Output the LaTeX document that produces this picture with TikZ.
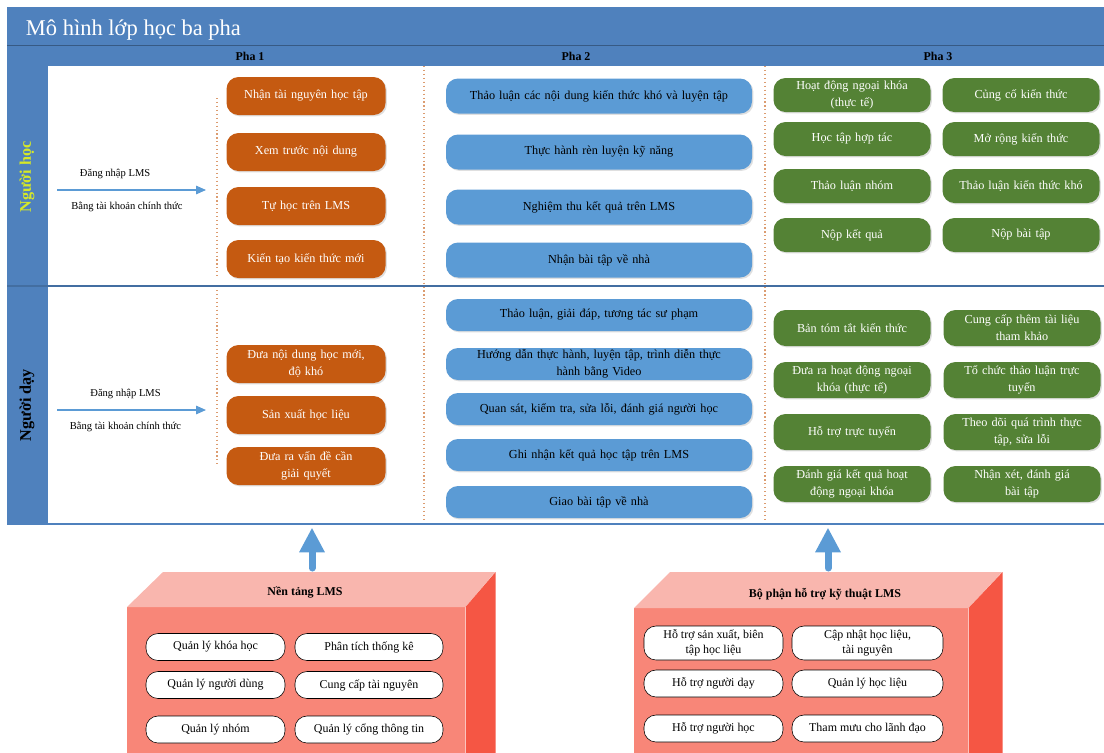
\documentclass[tikz,border=0pt]{standalone}
\usepackage{fontspec}
\setmainfont{Liberation Serif}
\usetikzlibrary{arrows.meta,shadows}
\newdimen\pxu \pxu=0.025cm
\definecolor{framecol}{RGB}{79,129,189}
\definecolor{pha1col}{RGB}{197,90,17}
\definecolor{pha2col}{RGB}{91,155,213}
\definecolor{pha3col}{RGB}{84,130,53}
\definecolor{hoccol}{RGB}{214,232,40}
\definecolor{boxtop}{RGB}{249,182,174}
\definecolor{boxfront}{RGB}{248,134,120}
\definecolor{boxside}{RGB}{245,86,68}
\tikzset{
  phabox/.style={rounded corners=12\pxu, inner sep=1pt, align=center,
    font=\fontsize{8.7}{12}\selectfont,
    drop shadow={opacity=0.25, shadow xshift=1pt, shadow yshift=-1pt}},
  box1/.style={phabox, fill=pha1col, text=white, minimum width=159\pxu,
    minimum height=38\pxu, text width=145\pxu},
  box2/.style={phabox, fill=pha2col, minimum width=306\pxu,
    minimum height=35\pxu, text width=290\pxu},
  box3/.style={phabox, fill=pha3col, text=white, minimum width=157\pxu,
    minimum height=34\pxu, text width=145\pxu},
  litebox/.style={draw, fill=white, rounded corners=12\pxu, inner sep=1pt,
    align=center, minimum height=27\pxu, font=\fontsize{8.5}{10.5}\selectfont},
  phalabel/.style={font=\bfseries\fontsize{8.5}{10}\selectfont},
  rowlabel/.style={rotate=90, font=\bfseries\fontsize{11.5}{13}\selectfont},
  loginlabel/.style={text=black, font=\fontsize{7.5}{9}\selectfont},
  phasep/.style={pha1col!60, dotted, line width=0.8pt},
  uparrow/.style={pha2col, line width=0.175cm, line cap=round,
    -{Triangle[width=0.6cm,length=0.62cm]}}
}
\begin{document}
\begin{tikzpicture}[x=0.025cm,y=-0.025cm]
\useasboundingbox (0,0) rectangle (1104,752);
% frame
\fill[framecol] (7,7) rectangle (1104,525);
\node[fill=white, inner sep=0pt, minimum width=1056\pxu, minimum height=457\pxu,
  anchor=north west] (board) at (48,66) {};
\draw[framecol!70!black] (7,45.5) -- (1104,45.5);
\draw[framecol!85!black, line width=1.2pt] (7,286) -- (1104,286);
\node[anchor=west, text=white, font=\fontsize{16}{19}\selectfont] (title) at (21,30) {Mô hình lớp học ba pha};
% phases
\node[phalabel] (pha1) at (250,56) {Pha 1};
\node[phalabel] (pha2) at (576,56) {Pha 2};
\node[phalabel] (pha3) at (938,56) {Pha 3};
\node[rowlabel, text=hoccol] (hoc) at (27,177) {Người học};
\node[rowlabel] (day) at (27,405) {Người dạy};
% separators
\draw[phasep] (217,98) -- (217,277);
\draw[phasep] (217,290) -- (217,465);
\draw[phasep] (424,66) -- (424,521);
\draw[phasep] (765,66) -- (765,521);
% login
\coordinate (hocs) at (57,190);
\coordinate (hoce) at (206,190);
\draw[pha2col, thick, -{Triangle[width=6pt,length=7pt]}] (hocs) -- (hoce)
  node[loginlabel, pos=0.39, above=4pt] {Đăng nhập LMS}
  node[loginlabel, pos=0.47, below=5pt] {Bằng tài khoản chính thức};
\coordinate (days) at (57,410);
\coordinate (daye) at (206,410);
\draw[pha2col, thick, -{Triangle[width=6pt,length=7pt]}] (days) -- (daye)
  node[loginlabel, pos=0.46, above=4pt] {Đăng nhập LMS}
  node[loginlabel, pos=0.46, below=5pt] {Bằng tài khoản chính thức};
% Pha 1
\foreach \t/\y [count=\i] in {Nhận tài nguyên học tập/96, Xem trước nội dung/152,
    Tự học trên LMS/206, Kiến tạo kiến thức mới/259}
  \node[box1] (hp1-\i) at (306,\y) {\t};
\foreach \t/\y [count=\i] in {{Đưa nội dung học mới,\\ độ khó}/364, Sản xuất học liệu/415,
    Đưa ra vấn đề cần\\ giải quyết/466}
  \node[box1] (dp1-\i) at (306,\y) {\t};
% Pha 2
\foreach \t/\y [count=\i] in {Thảo luận các nội dung kiến thức khó và luyện tập/96,
    Thực hành rèn luyện kỹ năng/152, Nghiệm thu kết quả trên LMS/207,
    Nhận bài tập về nhà/260}
  \node[box2] (hp2-\i) at (599,\y) {\t};
\foreach \t/\y [count=\i] in {{Thảo luận, giải đáp, tương tác sư phạm}/315,
    {Hướng dẫn thực hành, luyện tập, trình diễn thực\\ hành bằng Video}/364,
    {Quan sát, kiểm tra, sửa lỗi, đánh giá người học}/409,
    Ghi nhận kết quả học tập trên LMS/455, Giao bài tập về nhà/502}
  \node[box2, minimum height=32\pxu] (dp2-\i) at (599,\y) {\t};
% Pha 3
\foreach \t/\u/\y [count=\i] in {Hoạt động ngoại khóa\\ (thực tế)/Củng cố kiến thức/95,
    Học tập hợp tác/Mở rộng kiến thức/139, Thảo luận nhóm/Thảo luận kiến thức khó/186,
    Nộp kết quả/Nộp bài tập/235} {
  \node[box3] (hp3-\i) at (852,\y) {\t};
  \node[box3] (hp3-\i r) at (1021,\y) {\u};
}
\foreach \t/\u/\y [count=\i] in {Bản tóm tắt kiến thức/Cung cấp thêm tài liệu\\ tham khảo/328,
    Đưa ra hoạt động ngoại\\ khóa (thực tế)/Tổ chức thảo luận trực\\ tuyến/380,
    Hỗ trợ trực tuyến/{Theo dõi quá trình thực\\ tập, sửa lỗi}/432,
    Đánh giá kết quả hoạt\\ động ngoại khóa/{Nhận xét, đánh giá\\ bài tập}/484} {
  \node[box3, minimum height=36\pxu] (dp3-\i) at (852,\y) {\t};
  \node[box3, minimum height=36\pxu] (dp3-\i r) at (1022,\y) {\u};
}
% Nen tang LMS
\node[fill=boxfront, inner sep=0pt, minimum width=338\pxu, minimum height=160\pxu,
  anchor=north west] (lms) at (127,607) {};
\fill[boxtop] (lms.north west) -- ++(36,-35) -- ++(332,0) -- (lms.north east) -- cycle;
\fill[boxside] (lms.north east) -- ++(30,-35) -- ++(0,200) -- (lms.south east) -- cycle;
\node[phalabel] (lmsname) at (305,592) {Nền tảng LMS};
\node[litebox, minimum width=139\pxu] (lms1) at (215.5,647) {Quản lý khóa học};
\node[litebox, minimum width=148\pxu] (lms2) at (369,647) {Phân tích thống kê};
\node[litebox, minimum width=139\pxu] (lms3) at (215.5,685) {Quản lý người dùng};
\node[litebox, minimum width=148\pxu] (lms4) at (369,685) {Cung cấp tài nguyên};
\node[litebox, minimum width=139\pxu] (lms5) at (215.5,729.5) {Quản lý nhóm};
\node[litebox, minimum width=148\pxu] (lms6) at (369,729.5) {Quản lý cổng thông tin};
% Bo phan ho tro
\node[fill=boxfront, inner sep=0pt, minimum width=334\pxu, minimum height=160\pxu,
  anchor=north west] (kt) at (634,608) {};
\fill[boxtop] (kt.north west) -- ++(36,-36) -- ++(332,0) -- (kt.north east) -- cycle;
\fill[boxside] (kt.north east) -- ++(34,-36) -- ++(0,200) -- (kt.south east) -- cycle;
\node[phalabel] (ktname) at (825,594) {Bộ phận hỗ trợ kỹ thuật LMS};
\node[litebox, minimum width=139\pxu, minimum height=34\pxu] (kt1) at (713.5,643) {Hỗ trợ sản xuất, biên\\ tập học liệu};
\node[litebox, minimum width=151\pxu, minimum height=34\pxu] (kt2) at (867.5,643) {Cập nhật học liệu,\\ tài nguyên};
\node[litebox, minimum width=139\pxu] (kt3) at (713.5,683.5) {Hỗ trợ người dạy};
\node[litebox, minimum width=151\pxu] (kt4) at (867.5,683.5) {Quản lý học liệu};
\node[litebox, minimum width=139\pxu] (kt5) at (713.5,728.5) {Hỗ trợ người học};
\node[litebox, minimum width=151\pxu] (kt6) at (867.5,728.5) {Tham mưu cho lãnh đạo};
% support arrows
\coordinate (lmsup) at (312,568);
\coordinate (ktup) at (828,568);
\draw[uparrow] (lmsup) -- ([yshift=-4\pxu]lmsup |- board.south);
\draw[uparrow] (ktup) -- ([yshift=-4\pxu]ktup |- board.south);
\end{tikzpicture}
\end{document}
